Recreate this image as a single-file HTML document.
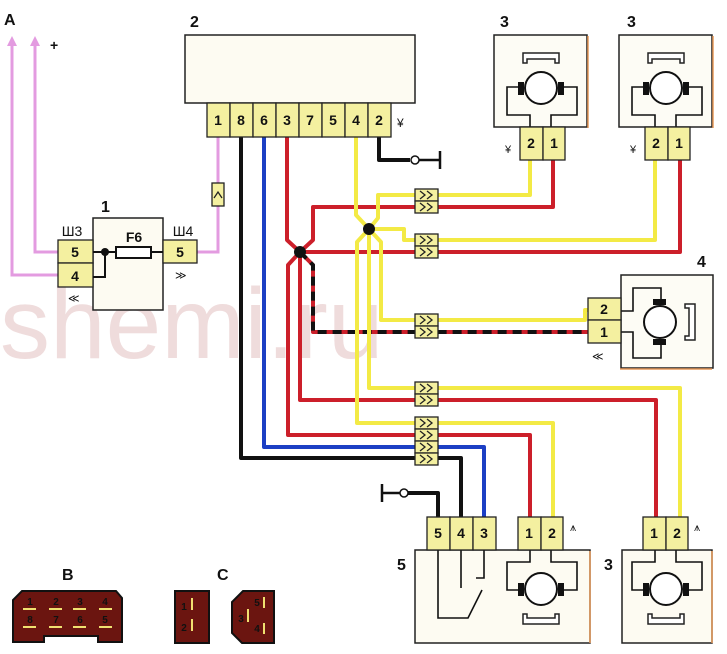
<!DOCTYPE html>
<html><head><meta charset="utf-8"><style>
html,body{margin:0;padding:0;background:#fff;}
svg{display:block;}
text{font-family:"Liberation Sans",sans-serif;font-weight:bold;fill:#111;}
</style></head><body>
<svg width="727" height="654" viewBox="0 0 727 654" xmlns="http://www.w3.org/2000/svg">
<defs>
 <g id="mot">
  <rect x="-47" y="-53" width="93" height="92" fill="#fdfcf5" stroke="#222" stroke-width="1.5"/>
  <line x1="47" y1="-52" x2="47" y2="40" stroke="#e89a5a" stroke-width="1.5"/>
  <path d="M-18,-35 V-25 H-14 V-29 H14 V-25 H18 V-35 Z" fill="#fff" stroke="#222" stroke-width="1.5"/>
  <circle cx="0" cy="0" r="16" fill="#fff" stroke="#111" stroke-width="2"/>
  <rect x="-23" y="-6" width="6" height="13" fill="#111"/>
  <rect x="17" y="-6" width="6" height="13" fill="#111"/>
  <path d="M-18,-1 H-34 V27 H-11 V39 M18,-1 H36 V27 H10 V39" fill="none" stroke="#111" stroke-width="1.6"/>
 </g>
 <g id="mot2">
  <path d="M-18,35 V25 H-14 V29 H14 V25 H18 V35 Z" fill="#fff" stroke="#222" stroke-width="1.5"/>
  <circle cx="0" cy="0" r="16" fill="#fff" stroke="#111" stroke-width="2"/>
  <rect x="-23" y="-6" width="6" height="13" fill="#111"/>
  <rect x="17" y="-6" width="6" height="13" fill="#111"/>
  <path d="M-18,1 H-34 V-27 H-11 V-39 M18,1 H36 V-27 H10 V-39" fill="none" stroke="#111" stroke-width="1.6"/>
 </g>
 <g id="chev">
  <rect x="0" y="0" width="23" height="12" fill="#f4f0a0" stroke="#222" stroke-width="1.3"/>
  <path d="M5,2 L10,6 L5,10 M12,2 L17,6 L12,10" fill="none" stroke="#222" stroke-width="1.3"/>
 </g>
</defs>

<!-- watermark -->
<text x="0" y="358" font-size="100" style="font-weight:normal;fill:#efdcdc">shemi.ru</text>

<!-- pink wires -->
<g fill="none" stroke="#e39be0" stroke-width="3">
 <path d="M58,252 H35 V45"/>
 <path d="M58,275 H12 V45"/>
 <path d="M197,252 H218 V137"/>
</g>
<path d="M35,36 L30,46 L40,46 Z M12,36 L7,46 L17,46 Z" fill="#e39be0"/>
<rect x="212" y="183" width="12" height="23" fill="#f4f0a0" stroke="#222" stroke-width="1.3"/>
<path d="M214,198 L218,192 L222,198" fill="none" stroke="#222" stroke-width="1.3"/>

<!-- wires -->
<g fill="none" stroke-width="4" stroke-linejoin="round">
 <path d="M241,137 V458 H461 V517" stroke="#111"/>
 <path d="M264,137 V447 H484 V517" stroke="#1c3fc4"/>
 <path d="M287,137 V240 L300,252 H680 V160" stroke="#cc1f2a"/>
 <path d="M300,252 L313,240 V207 H553 V160" stroke="#cc1f2a"/>
 <path d="M300,252 L288,265 V435 H530 V517" stroke="#cc1f2a"/>
 <path d="M300,252 V400 H656 V517" stroke="#cc1f2a"/>
 <path d="M300,252 L313,265 V332 H590" stroke="#cc1f2a"/>
 <path d="M300,252 L313,265 V332 H590" stroke="#111" stroke-dasharray="9 6"/>
 <path d="M356,137 V215 L369,229 L378,218 V195 H530 V160" stroke="#f3ea45"/>
 <path d="M369,229 H404 V240 H655 V160" stroke="#f3ea45"/>
 <path d="M369,229 L381,242 V320 H585 V310 H590" stroke="#f3ea45"/>
 <path d="M369,229 L357,242 V423 H553 V517" stroke="#f3ea45"/>
 <path d="M369,229 V388 H680 V517" stroke="#f3ea45"/>
 <path d="M379,137 V160 H410" stroke="#111"/>
 <path d="M438,517 V493 H408" stroke="#111"/>
</g>
<circle cx="300" cy="252" r="6" fill="#111"/>
<circle cx="369" cy="229" r="6" fill="#111"/>
<g stroke="#111" stroke-width="2.5" fill="#fff">
 <line x1="419" y1="160" x2="440" y2="160"/><line x1="440" y1="151" x2="440" y2="169"/>
 <circle cx="415" cy="160" r="4" stroke-width="1.5"/>
 <line x1="400" y1="493" x2="382" y2="493"/><line x1="382" y1="484" x2="382" y2="502"/>
 <circle cx="404" cy="493" r="4" stroke-width="1.5"/>
</g>

<use href="#chev" x="415" y="189"/><use href="#chev" x="415" y="201"/>
<use href="#chev" x="415" y="234"/><use href="#chev" x="415" y="246"/>
<use href="#chev" x="415" y="314"/><use href="#chev" x="415" y="326"/>
<use href="#chev" x="415" y="382"/><use href="#chev" x="415" y="394"/>
<use href="#chev" x="415" y="417"/><use href="#chev" x="415" y="429"/><use href="#chev" x="415" y="441"/><use href="#chev" x="415" y="453"/>

<!-- Block 2 -->
<rect x="185" y="35" width="230" height="68" fill="#fdfbf2" stroke="#222" stroke-width="1.5"/>
<g fill="#f4f0a0" stroke="#222" stroke-width="1.3">
 <rect x="207" y="103" width="23" height="34"/><rect x="230" y="103" width="23" height="34"/>
 <rect x="253" y="103" width="23" height="34"/><rect x="276" y="103" width="23" height="34"/>
 <rect x="299" y="103" width="23" height="34"/><rect x="322" y="103" width="23" height="34"/>
 <rect x="345" y="103" width="23" height="34"/><rect x="368" y="103" width="23" height="34"/>
</g>
<g font-size="14" text-anchor="middle">
 <text x="218" y="125">1</text><text x="241" y="125">8</text><text x="264" y="125">6</text><text x="287" y="125">3</text>
 <text x="310" y="125">7</text><text x="333" y="125">5</text><text x="356" y="125">4</text><text x="379" y="125">2</text>
</g>
<text x="190" y="27" font-size="16">2</text>
<text x="397" y="127" font-size="12" style="font-weight:normal">¥</text>

<!-- Block 1 -->
<rect x="93" y="218" width="70" height="92" fill="#fdfbf2" stroke="#222" stroke-width="1.5"/>
<g fill="#f4f0a0" stroke="#222" stroke-width="1.3">
 <rect x="58" y="240" width="35" height="23"/><rect x="58" y="263" width="35" height="24"/>
 <rect x="163" y="240" width="34" height="23"/>
</g>
<rect x="116" y="247" width="35" height="11" fill="#fff" stroke="#111" stroke-width="2"/>
<path d="M93,252 H116 M151,252 H163 M105,252 V277 H93" stroke="#111" stroke-width="2" fill="none"/>
<circle cx="105" cy="252" r="4" fill="#111"/>
<g font-size="14" text-anchor="middle">
 <text x="75" y="257">5</text><text x="75" y="281">4</text><text x="180" y="257">5</text>
 <text x="72" y="236" style="font-weight:normal">Ш3</text><text x="183" y="236" style="font-weight:normal">Ш4</text>
 <text x="134" y="242">F6</text>
</g>
<text x="101" y="212" font-size="16">1</text>
<text x="4" y="25" font-size="16">A</text>
<text x="50" y="50" font-size="14">+</text>
<text x="68" y="302" font-size="11" style="font-weight:normal">≪</text>
<text x="175" y="279" font-size="11" style="font-weight:normal">≫</text>

<!-- Motors 3 top -->
<use href="#mot" x="541" y="88"/>
<use href="#mot" x="666" y="88"/>
<g fill="#f4f0a0" stroke="#222" stroke-width="1.3">
 <rect x="520" y="127" width="23" height="33"/><rect x="543" y="127" width="22" height="33"/>
 <rect x="645" y="127" width="23" height="33"/><rect x="668" y="127" width="22" height="33"/>
</g>
<g font-size="14" text-anchor="middle">
 <text x="531" y="148">2</text><text x="554" y="148">1</text>
 <text x="656" y="148">2</text><text x="679" y="148">1</text>
</g>
<text x="500" y="27" font-size="16">3</text><text x="627" y="27" font-size="16">3</text>
<text x="505" y="153" font-size="11" style="font-weight:normal">¥</text>
<text x="630" y="153" font-size="11" style="font-weight:normal">¥</text>

<!-- Motor 4 -->
<use href="#mot" transform="translate(660,322) rotate(90)"/>
<g fill="#f4f0a0" stroke="#222" stroke-width="1.3">
 <rect x="588" y="298" width="33" height="22"/><rect x="588" y="320" width="33" height="23"/>
</g>
<g font-size="14" text-anchor="middle"><text x="604" y="314">2</text><text x="604" y="337">1</text></g>
<text x="697" y="267" font-size="16">4</text>
<text x="592" y="360" font-size="11" style="font-weight:normal">≪</text>

<!-- Block 5 -->
<rect x="415" y="550" width="175" height="93" fill="#fdfbf2" stroke="#222" stroke-width="1.5"/>
<line x1="590" y1="551" x2="590" y2="643" stroke="#e89a5a" stroke-width="1.5"/>
<use href="#mot2" x="541" y="589"/>
<path d="M438,550 V618 H468 L482,590 M461,550 V588 M484,550 V578 H476" stroke="#111" stroke-width="1.6" fill="none"/>
<rect x="622" y="550" width="90" height="93" fill="#fdfbf2" stroke="#222" stroke-width="1.5"/>
<line x1="712" y1="551" x2="712" y2="643" stroke="#e89a5a" stroke-width="1.5"/>
<use href="#mot2" x="666" y="589"/>
<g fill="#f4f0a0" stroke="#222" stroke-width="1.3">
 <rect x="427" y="517" width="23" height="33"/><rect x="450" y="517" width="23" height="33"/><rect x="473" y="517" width="23" height="33"/>
 <rect x="518" y="517" width="23" height="33"/><rect x="541" y="517" width="22" height="33"/>
 <rect x="643" y="517" width="23" height="33"/><rect x="666" y="517" width="22" height="33"/>
</g>
<g font-size="14" text-anchor="middle">
 <text x="438" y="538">5</text><text x="461" y="538">4</text><text x="484" y="538">3</text>
 <text x="529" y="538">1</text><text x="552" y="538">2</text>
 <text x="654" y="538">1</text><text x="677" y="538">2</text>
</g>
<text x="397" y="570" font-size="16">5</text><text x="604" y="570" font-size="16">3</text>
<text x="570" y="531" font-size="11" style="font-weight:normal">⩚</text>
<text x="694" y="531" font-size="11" style="font-weight:normal">⩚</text>

<!-- B and C connectors -->
<text x="62" y="580" font-size="16">B</text>
<text x="217" y="580" font-size="16">C</text>
<path d="M22,591 H116 L122,598 V642 H98 V636 H44 V642 H13 V600 Z" fill="#6b1510" stroke="#111" stroke-width="2"/>
<rect x="175" y="591" width="34" height="52" fill="#6b1510" stroke="#111" stroke-width="2"/>
<path d="M243,591 H274 V643 H242 L232,633 V602 Z" fill="#6b1510" stroke="#111" stroke-width="2"/>
<g stroke="#f0e070" stroke-width="2">
 <line x1="23" y1="609" x2="36" y2="609"/><line x1="49" y1="609" x2="62" y2="609"/><line x1="73" y1="609" x2="86" y2="609"/><line x1="99" y1="609" x2="112" y2="609"/>
 <line x1="23" y1="627" x2="36" y2="627"/><line x1="49" y1="627" x2="62" y2="627"/><line x1="73" y1="627" x2="86" y2="627"/><line x1="99" y1="627" x2="112" y2="627"/>
 <line x1="192" y1="598" x2="192" y2="610"/><line x1="192" y1="619" x2="192" y2="631"/>
 <line x1="248" y1="609" x2="248" y2="622"/><line x1="264" y1="597" x2="264" y2="608"/><line x1="264" y1="623" x2="264" y2="634"/>
</g>
<g font-size="10" style="fill:#f2d6a0;font-weight:normal" text-anchor="middle">
 <text x="30" y="605">1</text><text x="56" y="605">2</text><text x="80" y="605">3</text><text x="105" y="605">4</text>
 <text x="30" y="623">8</text><text x="56" y="623">7</text><text x="80" y="623">6</text><text x="105" y="623">5</text>
 <text x="184" y="610">1</text><text x="184" y="631">2</text>
 <text x="241" y="622">3</text><text x="257" y="606">5</text><text x="257" y="632">4</text>
</g>
</svg>
</body></html>
